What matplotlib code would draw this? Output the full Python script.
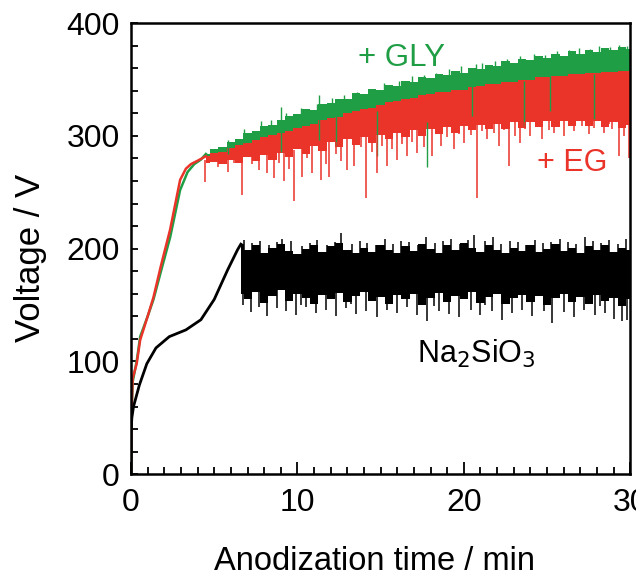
import matplotlib
matplotlib.use("Agg")
import matplotlib.pyplot as plt
import numpy as np

plt.rcParams['font.family'] = ['Liberation Sans', 'DejaVu Sans']

GREEN = '#1f9e45'
RED = '#ea3329'

# smooth start of each trace (time / min, voltage / V)
black_rise_t = [0, 0, 0.05, 0.15, 0.5, 0.95, 1.5, 2.3, 3.3, 4.2, 5.0, 5.8, 6.4, 6.6]
black_rise_v = [0, 38, 50, 60, 79, 98, 112, 122, 128, 137, 155, 181, 199, 204]

red_rise_t = [0, 0.03, 0.1, 0.34, 0.55, 1.0, 1.35, 1.8, 2.35, 2.95, 3.3, 3.6, 4.0, 4.5]
red_rise_v = [0, 55, 85, 98, 119, 140, 157, 185, 217, 261, 271, 275, 278, 282]

green_rise_t = [0, 0.03, 0.1, 0.34, 0.55, 1.0, 1.35, 1.8, 2.35, 2.95, 3.4, 3.8, 4.2, 4.5]
green_rise_v = [0, 52, 82, 100, 122, 140, 155, 180, 210, 252, 268, 275, 279, 284]

# noisy part, dense band edges read every 0.5 min
band_t = [4.5, 5.0, 5.5, 6.0, 6.5, 7.0, 7.5, 8.0, 8.5, 9.0, 9.5, 10.0, 10.5, 11.0,
          11.5, 12.0, 12.5, 13.0, 13.5, 14.0, 14.5, 15.0, 15.5, 16.0, 16.5, 17.0,
          17.5, 18.0, 18.5, 19.0, 19.5, 20.0, 20.5, 21.0, 21.5, 22.0, 22.5, 23.0,
          23.5, 24.0, 24.5, 25.0, 25.5, 26.0, 26.5, 27.0, 27.5, 28.0, 28.5, 29.0,
          29.5, 30.0]
green_top = [284, 288, 290, 295, 297, 303, 304, 309, 310, 314, 318, 319, 324, 323,
             328, 329, 333, 333, 338, 337, 342, 341, 345, 344, 349, 348, 352, 351,
             355, 354, 358, 356, 360, 359, 363, 362, 366, 365, 368, 367, 371, 369,
             373, 371, 375, 373, 376, 374, 378, 376, 379, 377]
red_top = [282, 285, 286, 289, 292, 294, 296, 299, 301, 303, 304, 307, 309, 311,
           314, 316, 317, 320, 322, 324, 325, 327, 330, 331, 333, 334, 336, 337,
           339, 339, 341, 341, 343, 344, 346, 346, 348, 348, 350, 350, 352, 352,
           353, 353, 355, 355, 356, 356, 357, 357, 358, 358]
red_bot = [276, 277, 275, 279, 276, 281, 278, 283, 279, 285, 281, 288, 284, 291,
           287, 295, 290, 297, 292, 299, 294, 301, 297, 303, 299, 305, 300, 306,
           302, 308, 303, 309, 305, 310, 306, 311, 306, 312, 307, 312, 308, 313,
           308, 313, 309, 313, 309, 313, 308, 312, 307, 310]

black_t = [6.6, 7.0, 7.5, 8.0, 8.5, 9.0, 9.5, 10.0, 10.5, 11.0, 11.5, 12.0, 12.5,
           13.0, 13.5, 14.0, 14.5, 15.0, 15.5, 16.0, 16.5, 17.0, 17.5, 18.0, 18.5,
           19.0, 19.5, 20.0, 20.5, 21.0, 21.5, 22.0, 22.5, 23.0, 23.5, 24.0, 24.5,
           25.0, 25.5, 26.0, 26.5, 27.0, 27.5, 28.0, 28.5, 29.0, 29.5, 30.0]
black_top = [204, 199, 203, 196, 201, 204, 198, 195, 200, 203, 197, 202, 205,
             199, 196, 201, 197, 203, 199, 196, 202, 198, 204, 200, 196,
             203, 199, 205, 201, 197, 203, 199, 196, 201, 198, 203, 197,
             200, 204, 198, 201, 196, 202, 199, 203, 197, 201, 199]
black_bot = [160, 155, 162, 152, 158, 163, 154, 160, 156, 151, 159, 155, 161,
             153, 158, 162, 154, 157, 151, 159, 155, 160, 150, 156, 161,
             153, 158, 155, 162, 152, 157, 160, 151, 156, 159, 153, 158,
             150, 156, 160, 153, 157, 151, 159, 154, 156, 149, 155]

# spikes (time, voltage)
red_dn_t = [4.46, 5.2, 5.8, 6.2, 6.67, 7.27, 7.7, 8.17, 8.57, 8.9, 9.17, 9.5, 9.78,
            10.3, 10.6, 10.9, 11.4, 11.7, 11.9, 12.3, 12.6, 13.0, 13.4, 13.8, 14.1,
            14.5, 14.8, 15.1, 15.4, 15.7, 16.0, 16.3, 16.6, 16.9, 17.2, 17.6, 18.1,
            18.6, 19.0, 19.4, 19.7, 20.0, 20.4, 20.8, 21.1, 21.4, 21.8, 22.1, 22.4,
            22.7, 23.1, 23.4, 23.7, 24.0, 24.4, 24.7, 25.1, 25.4, 25.7, 26.0, 26.3,
            26.6, 26.9, 27.1, 27.5, 27.8, 28.1, 28.4, 28.7, 28.9, 29.3, 29.6, 29.9]
red_dn_v = [259, 272, 268, 276, 248, 275, 270, 267, 263, 276, 260, 271, 242,
            264, 280, 267, 261, 275, 264, 284, 278, 270, 273, 290, 245,
            286, 267, 291, 273, 288, 279, 293, 282, 295, 285, 290, 282,
            291, 299, 288, 302, 294, 301, 245, 304, 297, 303, 291, 305,
            273, 300, 294, 306, 300, 309, 297, 305, 303, 310, 300, 312,
            304, 313, 309, 302, 307, 315, 303, 311, 306, 282, 300, 280]
green_dn_t = [9.0, 11.3, 12.3, 14.8, 17.8, 20.5, 23.6, 25.2, 27.8]
green_dn_v = [286, 296, 291, 282, 272, 318, 309, 322, 315]
green_up_t = [5.8, 6.8, 7.8, 8.4, 9.3, 10.2, 11.2, 12.1, 12.8, 13.6, 14.3, 15.2,
              16.1, 16.9, 17.6, 18.3, 19.1, 19.8, 20.7, 21.1, 21.9, 22.6, 23.4,
              24.2, 24.9, 25.6, 26.3, 26.9, 27.6, 28.1, 28.8, 29.3, 29.8]
green_up_v = [296, 306, 313, 314, 320, 325, 328, 334, 336, 339, 342, 347,
              349, 353, 354, 356, 359, 362, 364, 365, 366, 368, 371,
              373, 372, 375, 376, 378, 377, 380, 379, 381, 380]

black_up_t = [6.8, 7.25, 7.75, 8.3, 8.75, 9.1, 9.6, 10.3, 10.75, 11.2, 11.75, 12.25,
              12.6, 13.25, 13.75, 14.2, 14.75, 15.25, 15.75, 16.25, 16.7, 17.25,
              17.75, 18.25, 18.75, 19.25, 19.75, 20.25, 20.6, 21.25, 21.75, 22.25,
              22.75, 23.25, 23.75, 24.25, 24.75, 25.25, 25.75, 26.25, 26.75, 27.25,
              27.75, 28.25, 28.75, 29.25, 29.75]
black_up_v = [208, 205, 207, 203, 206, 209, 207, 202, 205, 208, 203, 206,
              214, 204, 207, 205, 203, 209, 204, 207, 206, 203,
              210, 205, 207, 209, 204, 208, 212, 207, 210, 204,
              207, 206, 203, 208, 205, 206, 209, 206, 204, 210,
              207, 205, 208, 204, 209]
black_dn_t = [6.7, 7.2, 7.7, 8.2, 8.8, 9.3, 9.9, 10.2, 10.5, 11.1, 11.7, 12.3, 12.9,
              13.2, 13.5, 14.1, 14.8, 15.4, 16.0, 16.6, 17.2, 17.8, 18.2, 18.5,
              19.1, 19.7, 20.4, 21.0, 21.3, 21.7, 22.3, 22.9, 23.5, 24.1, 24.8,
              25.3, 26.0, 26.6, 27.2, 27.9, 28.2, 28.5, 29.0, 29.5, 29.8]
black_dn_v = [150, 144, 148, 140, 147, 145, 141, 150, 148, 143, 146, 140, 147,
              151, 142, 145, 139, 146, 143, 148, 141, 136, 149, 145,
              142, 139, 146, 141, 150, 145, 137, 143, 146, 140, 145,
              134, 144, 139, 146, 141, 149, 143, 138, 136, 137]

fig = plt.figure(figsize=(6.36, 5.79), dpi=100)
ax = fig.add_axes([0.206, 0.181, 0.785, 0.779])

# + GLY (lower part is hidden by the + EG band)
ax.fill_between(band_t, red_bot, green_top, color=GREEN, lw=0, step='mid')
ax.plot(green_rise_t, green_rise_v, color=GREEN, lw=1.8)
ax.vlines(green_up_t, np.array(green_up_v) - 12, green_up_v, color=GREEN, lw=1)
ax.vlines(green_dn_t, green_dn_v, np.array(green_dn_v) + 40, color=GREEN, lw=1)

# + EG
ax.vlines(red_dn_t, red_dn_v, np.interp(red_dn_t, band_t, red_bot) + 3, color=RED, lw=1.1)
ax.fill_between(band_t, red_bot, red_top, color=RED, lw=0, step='mid')
ax.plot(red_rise_t, red_rise_v, color=RED, lw=1.8)

# Na2SiO3
ax.plot(black_rise_t, black_rise_v, color='black', lw=2)
ax.fill_between(black_t, black_bot, black_top, color='black', lw=0, step='mid')
ax.vlines(black_up_t, 190, black_up_v, color='black', lw=1.1)
ax.vlines(black_dn_t, black_dn_v, 165, color='black', lw=1.1)

fig.text(402 / 636, 1 - 58 / 579, '+ GLY', color=GREEN, fontsize=22.5,
         ha='center', va='center')
fig.text(572 / 636, 1 - 163 / 579, '+ EG', color=RED, fontsize=22,
         ha='center', va='center')
ax.text(17.2, 98.5, 'Na$_2$SiO$_3$', color='black', fontsize=22,
        ha='left', va='baseline')

ax.set_xlim(0, 30)
ax.set_ylim(0, 400)
ax.set_xticks([0, 10, 20, 30])
ax.set_xticks(np.arange(0, 31, 1), minor=True)
ax.set_yticks([0, 100, 200, 300, 400])
ax.set_yticks(np.arange(0, 401, 20), minor=True)
ax.tick_params(which='both', direction='in', top=False, right=False, width=1.3,
               labelsize=23)
ax.tick_params(axis='x', which='major', length=9, pad=10)
ax.tick_params(axis='x', which='minor', length=5)
ax.tick_params(axis='y', which='both', length=5, pad=8)
for s in ax.spines.values():
    s.set_linewidth(1.8)

ax.set_xlabel('Anodization time / min', fontsize=23.5)
ax.set_ylabel('Voltage / V', fontsize=25)
ax.xaxis.set_label_coords(0.487, -0.16)
ax.yaxis.set_label_coords(-0.168, 0.48)

fig.savefig('out.png', dpi=100)
